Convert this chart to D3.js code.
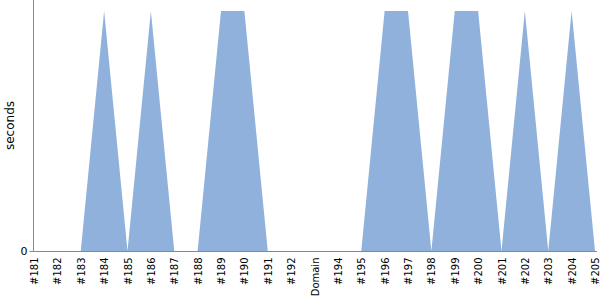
<!DOCTYPE html>
<html>
<head>
<meta charset="utf-8">
<script src="https://cdn.jsdelivr.net/npm/d3@7"></script>
<style>
  body { margin: 0; background: #fff; }
  svg text { font-family: "DejaVu Sans", sans-serif; }
</style>
</head>
<body>
<svg id="chart"></svg>
<script>
// builds in order
const categories = ["#181", "#182", "#183", "#184", "#185", "#186", "#187", "#188", "#189", "#190",
  "#191", "#192", "Domain", "#194", "#195", "#196", "#197", "#198", "#199", "#200",
  "#201", "#202", "#203", "#204", "#205"];
// duration per build
const seconds = [0, 0, 0, 1, 0, 1, 0, 0, 1, 1, 0, 0, 0, 0, 0, 1, 1, 0, 1, 1, 0, 1, 0, 1, 0];
const yTicks = [0];

const width = 600;
const height = 300;
const margin = { top: 11, right: 5, bottom: 49, left: 34 };

const data = categories.map((c, i) => ({ category: c, value: seconds[i] }));

const svg = d3.select("#chart")
  .attr("width", width)
  .attr("height", height);

const x = d3.scalePoint()
  .domain(categories)
  .range([margin.left, width - margin.right]);

const y = d3.scaleLinear()
  .domain([0, d3.max(seconds)])
  .range([height - margin.bottom, margin.top]);

// area
const area = d3.area()
  .x(d => x(d.category))
  .y0(y(0))
  .y1(d => y(d.value));

svg.append("path")
  .datum(data)
  .attr("fill", "#8fb1db")
  .attr("d", area);

// Axes
const axisColor = "#888";

const yAxis = svg.append("g")
  .attr("transform", `translate(${margin.left - 0.5},0)`)
  .call(d3.axisLeft(y).tickValues(yTicks).tickFormat(d3.format("d")).tickSize(4).tickSizeOuter(0));
yAxis.select(".domain")
  .attr("d", `M0,0V${height - margin.bottom + 0.5}`)
  .attr("stroke", axisColor);
yAxis.selectAll(".tick line").attr("stroke", axisColor);
yAxis.selectAll(".tick text")
  .attr("font-size", 11)
  .attr("fill", "#000")
  .attr("x", -6);

const xAxis = svg.append("g")
  .attr("transform", `translate(0,${height - margin.bottom + 0.5})`)
  .call(d3.axisBottom(x).tickSize(0).tickSizeOuter(0));
xAxis.select(".domain")
  .attr("d", `M${margin.left - 0.5},0H${width - 3}`)
  .attr("stroke", axisColor);
xAxis.selectAll(".tick text")
  .attr("font-size", 10)
  .attr("fill", "#000")
  .attr("text-anchor", "end")
  .attr("transform", "rotate(-90)")
  .attr("x", -6)
  .attr("y", 0)
  .attr("dy", "0.35em");

// Y-axis label
svg.append("text")
  .attr("transform", `translate(10,${(height - margin.bottom) / 2}) rotate(-90)`)
  .attr("text-anchor", "middle")
  .attr("dy", "0.35em")
  .attr("font-size", 12)
  .attr("fill", "#000")
  .text("seconds");
</script>
</body>
</html>
